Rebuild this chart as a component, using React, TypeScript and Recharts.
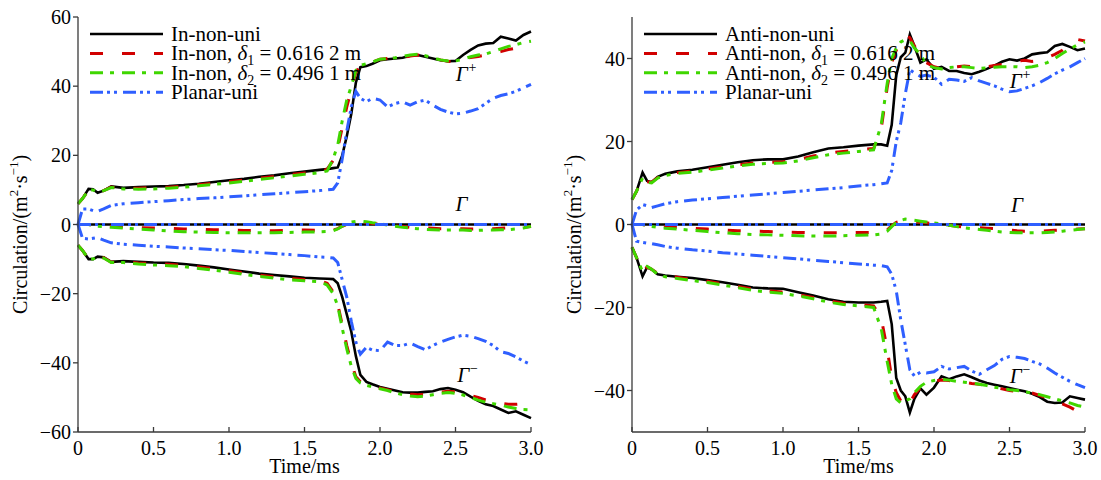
import React from "react";
import { LineChart, Line, XAxis, YAxis, Legend, ReferenceDot } from "recharts";

const FONT = '"Liberation Serif", "Times New Roman", serif';

// shared time grid, ms
const time = [
  0, 0.03, 0.07, 0.1, 0.13, 0.17, 0.22, 0.3,
  0.4, 0.5, 0.6, 0.7, 0.8, 0.9, 1.0, 1.1, 1.2, 1.3, 1.4, 1.5, 1.6,
  1.65, 1.69, 1.72, 1.75, 1.78, 1.81, 1.84, 1.87, 1.91, 1.95,
  2.0, 2.05, 2.1, 2.15, 2.2, 2.25, 2.3, 2.35, 2.4, 2.45, 2.5, 2.55, 2.6, 2.65, 2.7, 2.75, 2.8, 2.85, 2.9, 2.95, 3.0,
];

const zeroNet = [
  0, 0, 0, 0, 0, 0, 0, 0,
  0, 0, 0, 0, 0, 0, 0, 0, 0, 0, 0, 0, 0,
  0, 0, 0, 0, 0, 0, 0, 0, 0, 0,
  0, 0, 0, 0, 0, 0, 0, 0, 0, 0, 0, 0, 0, 0, 0, 0, 0, 0, 0, 0, 0,
];

// ---- left panel (In-...) ----
const inUniPos = [
  6, 7.5, 10.3, 10.2, 9.2, 9.8, 11, 10.6,
  10.8, 11, 11.1, 11.4, 11.8, 12.3, 12.8, 13.2, 13.8, 14.2, 14.8, 15.3, 15.8,
  16, 16.3, 16.5, 20, 25.5, 32, 41, 45.5, 45.8, 46.5,
  47.5, 47.8, 48, 48.2, 48.8, 49, 48.5, 48, 47.5, 47.2, 47.3, 49, 50.5, 51.8, 52.3, 52.5, 54.3, 53.8, 53.2, 54.8, 55.8,
];
const inD1Pos = [
  6, 7.5, 10, 10, 9.3, 9.8, 10.8, 10.4,
  10.5, 10.7, 10.8, 11.1, 11.5, 12, 12.4, 12.9, 13.4, 13.9, 14.4, 14.9, 15.3,
  16, 18.5, 22, 28, 34, 39, 44, 46, 46.5, 47,
  47.8, 48, 48, 48.3, 48.7, 49, 48.7, 48.2, 47.6, 47.2, 47.1, 47.8, 48.3, 48.6, 49, 49.5, 50, 50.6, 51, 51.3, 51.5,
];
const inD2Pos = [
  6, 7.5, 10, 10, 9.2, 9.8, 10.7, 10.3,
  10.2, 10.3, 10.5, 10.8, 11.2, 11.6, 12, 12.5, 13, 13.5, 14, 14.5, 15,
  15.5, 19, 23, 30, 36, 40, 44.5, 46, 46.5, 47,
  47.8, 48, 48.2, 48.6, 49, 49.2, 48.8, 48.2, 47.6, 47.3, 47.3, 47.8, 48.5, 49, 49.3, 50, 50.8, 51.5, 52, 52.6, 53,
];
const planarPosL = [
  0, 4.5, 4.5, 4, 3.8, 4.5, 5.5, 6,
  6.3, 6.6, 6.9, 7.2, 7.5, 7.7, 8, 8.3, 8.6, 8.9, 9.2, 9.5, 9.8,
  10, 10.2, 12, 19, 27, 34, 38.5, 36.5, 35.5, 36.5,
  36, 34, 35, 35.5, 34.5, 35.5, 36, 34.5, 33.3, 32.5, 32, 32.2, 32.8, 33.5, 35, 36.5, 37.3, 37.8, 38.5, 39.5, 40.5,
];
const inD1Net = [
  0, 0, 0, -0.2, -0.3, -0.4, -0.5, -0.7,
  -0.9, -1, -1.1, -1.3, -1.4, -1.5, -1.6, -1.7, -1.8, -1.8, -1.7, -1.6, -1.7,
  -1.7, -1.6, -1.2, -0.5, 0, 0.3, 0.5, 0.6, 0.5, 0.3,
  0.1, -0.2, -0.4, -0.6, -0.8, -0.9, -1, -1.1, -1.2, -1.2, -1.2, -1.2, -1.3, -1.3, -1.2, -1.2, -1.1, -1, -1, -0.8, -0.6,
];
const inD2Net = [
  0, 0, 0, -0.3, -0.5, -0.6, -0.8, -1,
  -1.3, -1.6, -1.9, -2.1, -2.2, -2.3, -2.4, -2.4, -2.4, -2.4, -2.3, -2.2, -2.1,
  -2, -1.8, -1.3, -0.5, 0.2, 0.7, 0.9, 1, 0.8, 0.5,
  0.3, -0.2, -0.5, -0.8, -1, -1.2, -1.4, -1.5, -1.6, -1.6, -1.6, -1.6, -1.7, -1.7, -1.6, -1.6, -1.5, -1.5, -1.3, -1, -0.5,
];
const inUniNeg = [
  -6, -7.5, -10, -10, -9.3, -9.5, -10.8, -10.6,
  -10.8, -11, -11.1, -11.4, -11.9, -12.4, -13, -13.6, -14.2, -14.6, -15, -15.4, -15.6,
  -15.7, -15.8, -17, -21, -26, -31, -38, -43.5, -45.5, -46.2,
  -47, -47.5, -48, -48.5, -48.6, -48.6, -48.4, -48.2, -47.6, -47.3, -47.8, -48.5, -49.8, -51, -52, -52.5, -53.5, -54.5, -54, -55, -56,
];
const inD1Neg = [
  -6, -7.5, -10, -10, -9.3, -9.6, -10.9, -10.8,
  -11.1, -11.3, -11.5, -11.8, -12.3, -12.8, -13.4, -14, -14.6, -15.1, -15.5, -15.9, -16.2,
  -17, -19.5, -23, -29, -35, -40, -44, -45.5, -46.2, -46.7,
  -47.3, -47.8, -48.3, -48.7, -49, -49.2, -49.1, -48.8, -48.5, -48.2, -48.4, -48.8, -49.4, -50, -50.7, -51.2, -51.7, -52, -52, -51.8, -51.7,
];
const inD2Neg = [
  -6, -7.5, -10, -10, -9.3, -9.7, -11, -11,
  -11.4, -11.7, -11.9, -12.2, -12.7, -13.2, -13.8, -14.4, -15, -15.5, -16, -16.3, -16.5,
  -17.5, -20, -23.5, -30, -36, -41, -44.5, -45.8, -46.5, -47,
  -47.5, -48, -48.7, -49.2, -49.6, -49.8, -49.6, -49.2, -48.8, -48.6, -48.8, -49.3, -50, -50.8, -51.4, -51.8, -52.2, -52.8, -53.2, -53.5, -53.6,
];
const planarNegL = [
  0, -4, -4.2, -4, -3.8, -4.5, -5.3, -5.7,
  -6, -6.3, -6.5, -6.8, -7, -7.3, -7.5, -7.8, -8.1, -8.4, -8.7, -9, -9.4,
  -9.5, -9.7, -11, -16, -21, -28, -34, -37.5, -35.5, -36.3,
  -36.5, -34, -35, -35, -34.3, -35.3, -36.2, -35, -34, -33.2, -32.5, -32, -32.3, -33, -33.8, -35, -36.8, -37.3, -38.3, -39.5, -40.5,
];

// ---- right panel (Anti-...) ----
const antiUniPos = [
  6, 8, 12.5, 10.5, 10.2, 11.5, 12.2, 12.8,
  13.2, 13.8, 14.4, 15, 15.5, 15.7, 15.7, 16.4, 17.4, 18.3, 18.6, 19, 19.3,
  19.3, 19, 24, 36, 40.3, 41.4, 45.8, 43, 39, 39.8,
  37.5, 38, 37, 37, 36.5, 36.2, 36.8, 37.5, 38.3, 39.2, 39.8, 39.5, 40, 41, 41.3, 41.5, 43, 43.5, 42.8, 42, 42.4,
];
const antiD1Pos = [
  6, 8, 11.5, 10.3, 10.2, 11.3, 12, 12.5,
  12.9, 13.4, 13.9, 14.4, 14.8, 15, 15.1, 15.6, 16.5, 17.2, 17.6, 18, 18.3,
  23, 33, 39, 42, 44, 45.5, 45, 43, 41.2, 39,
  38, 37.6, 38, 38, 38.2, 38, 37.8, 38, 38.3, 38.6, 39, 39.3, 39.6, 39.3, 39.5, 40.2, 41, 42, 43.5, 44.6, 44.2,
];
const antiD2Pos = [
  6, 8, 11.2, 10.2, 10, 11.2, 11.8, 12.3,
  12.6, 13.1, 13.6, 14.1, 14.5, 14.7, 14.8, 15.3, 16.1, 16.8, 17.2, 17.6, 18,
  24, 34, 40, 42.5, 44, 44.5, 44.3, 42.5, 41, 38.5,
  37.8, 37.5, 37.8, 38, 38, 37.8, 37.6, 37.7, 37.9, 38, 38, 38, 37.8, 38, 38.4, 39, 40, 41.2, 42.3, 43.3, 44,
];
const planarPosR = [
  0, 3.5, 4.8, 4.5, 4.1, 4.5, 5, 5.5,
  5.9, 6.2, 6.5, 6.8, 7.1, 7.4, 7.7, 8, 8.3, 8.6, 8.9, 9.3, 9.6,
  9.8, 10, 13, 20, 24.5, 31.5, 37.3, 36.5, 35.7, 36,
  35.5, 33.8, 35, 34.8, 34.5, 35.4, 34.6, 34, 33.4, 32.6, 32, 32.2, 32.8, 33.4, 34.2, 35.2, 36.3, 37.2, 38, 39, 40,
];
const antiD1Net = [
  0, 0, 0, -0.2, -0.3, -0.4, -0.5, -0.7,
  -0.9, -1.1, -1.3, -1.5, -1.6, -1.7, -1.8, -1.9, -2, -2, -2, -1.9, -1.9,
  -1.8, -1.3, -0.3, 0.5, 0.8, 1, 0.9, 0.7, 0.5, 0.4,
  0.2, 0, -0.2, -0.4, -0.6, -0.7, -0.8, -0.9, -1, -1.2, -1.3, -1.5, -1.6, -1.6, -1.6, -1.5, -1.4, -1.3, -1.2, -1.1, -1,
];
const antiD2Net = [
  0, 0, 0, -0.3, -0.5, -0.7, -0.9, -1.1,
  -1.4, -1.7, -2, -2.2, -2.4, -2.5, -2.6, -2.7, -2.8, -2.8, -2.7, -2.6, -2.5,
  -2.3, -1.6, -0.5, 0.5, 1, 1.3, 1.2, 1, 0.8, 0.6,
  0.4, 0.1, -0.2, -0.5, -0.8, -1, -1.2, -1.4, -1.6, -1.8, -1.9, -2, -2, -2, -2, -1.9, -1.8, -1.6, -1.4, -1.2, -1,
];
const antiUniNeg = [
  -5.5, -8, -12.5, -10.3, -10.8, -12, -12.3, -12.6,
  -12.9, -13.4, -13.9, -14.5, -15.2, -15.4, -15.5, -16.3, -17.1, -18, -18.6, -18.8, -18.8,
  -18.6, -18.4, -24, -37, -40, -41.4, -45.3, -42, -39.5, -41,
  -39.3, -36.6, -37.3, -36.6, -36.1, -36.8, -37.6, -38.2, -38.6, -39, -39.4, -39.8, -40.2, -40.8, -41.6, -42.7, -43, -42.9, -41.4, -41.8, -42.2,
];
const antiD1Neg = [
  -5.5, -8, -11.5, -10.2, -10.8, -11.8, -12.3, -12.7,
  -13.2, -13.7, -14.3, -14.9, -15.6, -16, -16.3, -16.9, -17.6, -18.4, -19, -19.3, -19.6,
  -22.5, -30, -37, -40.5, -42.5, -44, -43, -41, -39.3, -38.5,
  -37.8, -37.5, -37.6, -37.8, -38, -38.3, -38.5, -38.8, -39.2, -39.6, -40, -40.2, -40.4, -40.6, -41.2, -41.8, -42.5, -43.2, -44, -45, -45.8,
];
const antiD2Neg = [
  -5.5, -8, -11.3, -10.1, -10.8, -12, -12.6, -13,
  -13.5, -14, -14.6, -15.2, -15.9, -16.3, -16.6, -17.2, -17.9, -18.7, -19.3, -19.6, -20,
  -25, -33, -38.5, -42, -43, -42.5, -42, -40.5, -39, -38,
  -37.6, -37.3, -37.5, -37.8, -38, -38.2, -38.5, -38.8, -39.2, -39.5, -39.8, -40, -40.3, -40.6, -41, -41.5, -42, -42.5, -43, -43.6, -44,
];
const planarNegR = [
  0, -4, -4.3, -4.5, -4.6, -4.9, -5.3, -5.7,
  -6.1, -6.4, -6.8, -7.1, -7.4, -7.7, -8, -8.3, -8.6, -8.9, -9.2, -9.5, -9.8,
  -9.9, -10.2, -12, -16, -23, -29, -35, -36.5, -35.6, -35.8,
  -35.5, -34.2, -34.8, -34.5, -34.2, -35.3, -36.1, -35, -34, -32.5, -31.8, -32, -32.3, -33, -33.6, -34.6, -35.8, -36.8, -37.8, -38.6, -39.3,
];

const xTicks = [0, 0.5, 1, 1.5, 2, 2.5, 3];
const leftYTicks = [-60, -40, -20, 0, 20, 40, 60];
const rightYTicks = [-40, -20, 0, 20, 40];

const leftNames = [
  { pre: "In-non-uni" },
  { pre: "In-non, ", sym: "δ", sub: "1", post: " = 0.616 2 m" },
  { pre: "In-non, ", sym: "δ", sub: "2", post: " = 0.496 1 m" },
  { pre: "Planar-uni" },
];
const rightNames = [
  { pre: "Anti-non-uni" },
  { pre: "Anti-non, ", sym: "δ", sub: "1", post: " = 0.616 2 m" },
  { pre: "Anti-non, ", sym: "δ", sub: "2", post: " = 0.496 1 m" },
  { pre: "Planar-uni" },
];

const styles = [
  { color: "#000000", dash: undefined as string | undefined, width: 2.6 },
  { color: "#d10000", dash: "13 19", width: 3 },
  { color: "#3fd600", dash: "13 7 4 8", width: 3 },
  { color: "#2f5fff", dash: "13 4 3 4 3 6", width: 3 },
];

type Name = { pre: string; sym?: string; sub?: string; post?: string };

function buildRows(pos: number[][], net: number[][], neg: number[][]) {
  return time.map((t, i) => {
    const row: Record<string, number> = { t };
    pos.forEach((s, k) => (row["p" + k] = s[i]));
    net.forEach((s, k) => (row["n" + k] = s[i]));
    neg.forEach((s, k) => (row["m" + k] = s[i]));
    return row;
  });
}

const leftRows = buildRows(
  [inUniPos, inD1Pos, inD2Pos, planarPosL],
  [zeroNet, inD1Net, inD2Net, zeroNet],
  [inUniNeg, inD1Neg, inD2Neg, planarNegL]
);
const rightRows = buildRows(
  [antiUniPos, antiD1Pos, antiD2Pos, planarPosR],
  [zeroNet, antiD1Net, antiD2Net, zeroNet],
  [antiUniNeg, antiD1Neg, antiD2Neg, planarNegR]
);

const fmtY = (v: number) => (v < 0 ? "\u2212" + Math.abs(v) : String(v));
const fmtX = (v: number) => (v === 0 ? "0" : v.toFixed(1));

function YLabel(props: any) {
  const vb = props.viewBox || { x: 0, y: 0, width: 0, height: 0 };
  const cx = vb.x + 20;
  const cy = vb.y + vb.height / 2 + 10;
  return (
    <text
      x={cx}
      y={cy}
      transform={`rotate(-90 ${cx} ${cy})`}
      textAnchor="middle"
      dominantBaseline="central"
      style={{ fontFamily: FONT }}
      fontSize={20}
      fill="#000"
    >
      Circulation/(m
      <tspan fontSize={13} dy={-7}>2</tspan>
      <tspan dy={7}>·s</tspan>
      <tspan fontSize={13} dy={-7}>−1</tspan>
      <tspan dy={7}>)</tspan>
    </text>
  );
}

function XLabel(props: any) {
  const vb = props.viewBox || { x: 0, y: 0, width: 0, height: 0 };
  return (
    <text x={vb.x + vb.width / 2} y={vb.y + 41} textAnchor="middle" style={{ fontFamily: FONT }} fontSize={20} fill="#000">
      Time/ms
    </text>
  );
}

function GammaLabel(props: any) {
  const vb = props.viewBox || { x: 0, y: 0, width: 0, height: 0 };
  const sup: string = props.sup || "";
  return (
    <text x={vb.x + vb.width / 2} y={vb.y + vb.height / 2 + 7} style={{ fontFamily: FONT }} fontSize={21} fontStyle="italic" textAnchor="middle" fill="#000">
      Γ
      {sup && (
        <tspan fontSize={14} dy={-9} dx={1} fontStyle="normal">{sup}</tspan>
      )}
    </text>
  );
}

function LegendBox({ names }: { names: Name[] }) {
  return (
    <svg width={420} height={84} style={{ display: "block", overflow: "visible" }}>
      {names.map((n, i) => {
        const y = 10 + i * 19.4;
        const s = styles[i];
        return (
          <g key={i}>
            <line x1={0} x2={73} y1={y} y2={y} stroke={s.color} strokeWidth={s.width} strokeDasharray={s.dash} />
            <text x={81} y={y + 7} style={{ fontFamily: FONT }} fontSize={21} fill="#000">
              <tspan>{n.pre}</tspan>
              {n.sym && <tspan fontStyle="italic">{n.sym}</tspan>}
              {n.sub && <tspan fontSize={14} dy={5}>{n.sub}</tspan>}
              {n.post && <tspan dy={-5}>{n.post}</tspan>}
            </text>
          </g>
        );
      })}
    </svg>
  );
}

type PanelProps = {
  rows: Record<string, number>[];
  names: Name[];
  yDomain: [number, number];
  yTicks: number[];
  marks: { x: number; y: number; sup: string }[];
};

function Panel({ rows, names, yDomain, yTicks, marks }: PanelProps) {
  const axisColor = "#3a3a3a";
  const tickFont = { fill: "#000", fontSize: 20, fontFamily: FONT, style: { fontFamily: FONT } };
  return (
    <LineChart width={545} height={480} data={rows} margin={{ top: 17, right: 14, bottom: 0, left: 0 }} style={{ fontFamily: FONT }}>
      <XAxis
        dataKey="t"
        type="number"
        domain={[0, 3]}
        ticks={xTicks}
        interval={0}
        tickFormatter={fmtX}
        tick={tickFont}
        tickSize={-5}
        tickMargin={14}
        height={48}
        stroke={axisColor}
        strokeWidth={1.3}
        label={<XLabel />}
      />
      <XAxis xAxisId="top" orientation="top" dataKey="t" type="number" domain={[0, 3]} height={0} tick={false} tickLine={false} stroke={axisColor} strokeWidth={1.3} />
      <YAxis
        type="number"
        domain={yDomain}
        ticks={yTicks}
        interval={0}
        tickFormatter={fmtY}
        tick={tickFont}
        tickSize={5}
        tickMargin={2}
        width={78}
        stroke={axisColor}
        strokeWidth={1.3}
        label={<YLabel />}
      />
      <YAxis yAxisId="right" orientation="right" type="number" domain={yDomain} width={0} tick={false} tickLine={false} stroke={axisColor} strokeWidth={1.3} />
      <Legend
        layout="vertical"
        align="center"
        verticalAlign="middle"
        wrapperStyle={{ position: "absolute", left: 90, top: 24, width: 420, height: 84 }}
        content={() => <LegendBox names={names} />}
      />
      {styles.map((s, k) =>
        ["p", "n", "m"].map((g) => (
          <Line
            key={g + k}
            dataKey={g + k}
            type="linear"
            stroke={s.color}
            strokeWidth={s.width}
            strokeDasharray={s.dash}
            dot={false}
            activeDot={false}
            isAnimationActive={false}
            legendType="none"
          />
        ))
      )}
      {marks.map((m, i) => (
        <ReferenceDot key={i} x={m.x} y={m.y} r={1} fill="none" stroke="none" label={<GammaLabel sup={m.sup} />} />
      ))}
    </LineChart>
  );
}

const leftMarks = [
  { x: 2.57, y: 43.5, sup: "+" },
  { x: 2.54, y: 5.8, sup: "" },
  { x: 2.58, y: -43.5, sup: "−" },
];
const rightMarks = [
  { x: 2.57, y: 34.5, sup: "+" },
  { x: 2.55, y: 4.8, sup: "" },
  { x: 2.57, y: -36.6, sup: "−" },
];

export default function App() {
  return (
    <div style={{ position: "absolute", left: 0, top: 0, width: 1101, height: 480, background: "#fff", fontFamily: FONT }}>
      <div style={{ position: "absolute", left: 0, top: 0 }}>
        <Panel rows={leftRows} names={leftNames} yDomain={[-60, 60]} yTicks={leftYTicks} marks={leftMarks} />
      </div>
      <div style={{ position: "absolute", left: 554, top: 0 }}>
        <Panel rows={rightRows} names={rightNames} yDomain={[-50, 50]} yTicks={rightYTicks} marks={rightMarks} />
      </div>
    </div>
  );
}
